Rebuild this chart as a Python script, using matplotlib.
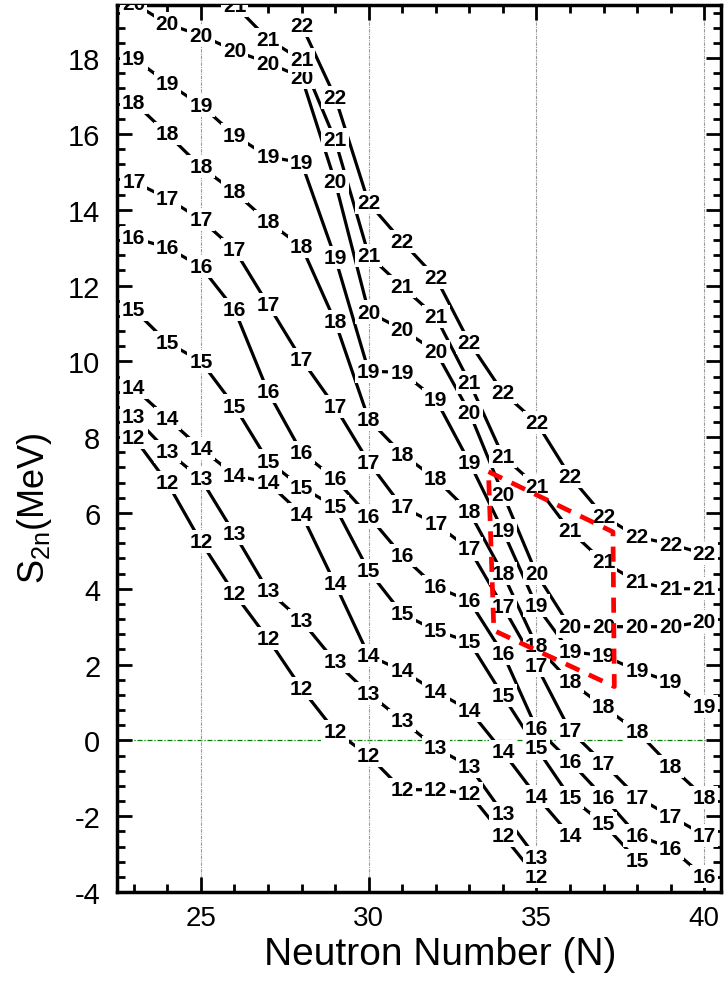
import matplotlib
matplotlib.use('Agg')
import numpy as np
import matplotlib.pyplot as plt
from matplotlib.ticker import MultipleLocator

nan = np.nan

# neutron numbers and two-neutron separation energies (MeV), one list per Z
n_values = [23, 24, 25, 26, 27, 28, 29, 30, 31, 32, 33, 34, 35, 36, 37, 38, 39, 40]

s2n_z12 = [8.0, 6.8, 5.24, 3.87, 2.68, 1.37, 0.24, -0.4, -1.3, -1.3, -1.4, -2.5, -3.6, nan, nan, nan, nan, nan]
s2n_z13 = [8.55, 7.63, 6.9, 5.45, 3.95, 3.16, 2.08, 1.24, 0.53, -0.2, -0.68, -1.92, -3.1, nan, nan, nan, nan, nan]
s2n_z14 = [9.3, 8.5, 7.7, 7.0, 6.8, 5.97, 4.13, 2.24, 1.84, 1.29, 0.8, -0.3, -1.47, -2.5, nan, nan, nan, nan]
s2n_z15 = [11.37, 10.5, 10.0, 8.82, 7.37, 6.68, 6.16, 4.47, 3.34, 2.9, 2.6, 1.18, -0.2, -1.5, -2.2, -3.16, nan, nan]
s2n_z16 = [13.26, 13.0, 12.5, 11.37, 9.2, 7.6, 6.9, 5.92, 4.87, 4.05, 3.68, 2.29, 0.32, -0.55, -1.5, -2.5, -2.84, -3.6]
s2n_z17 = [14.74, 14.3, 13.74, 12.95, 11.5, 10.05, 8.8, 7.34, 6.16, 5.71, 5.05, 3.53, 1.97, 0.26, -0.6, -1.5, -2.0, -2.5]
s2n_z18 = [16.84, 16.0, 15.13, 14.47, 13.68, 13.03, 11.05, 8.47, 7.55, 6.9, 6.03, 4.4, 2.5, 1.55, 0.89, 0.24, -0.68, -1.5]
s2n_z19 = [18.0, 17.34, 16.76, 15.97, 15.4, 15.24, 12.74, 9.74, 9.71, 9.0, 7.34, 5.53, 3.55, 2.34, 2.24, 1.84, 1.55, 0.89]
s2n_z20 = [19.45, 18.9, 18.6, 18.2, 17.87, 17.5, 14.74, 11.3, 10.84, 10.26, 8.66, 6.5, 4.4, 3.0, 3.0, 3.0, 3.0, 3.13]
s2n_z21 = [nan, nan, nan, 19.4, 18.5, 17.95, 15.84, 12.8, 11.97, 11.18, 9.45, 7.5, 6.71, 5.53, 4.71, 4.18, 4.0, 4.0]
s2n_z22 = [nan, nan, nan, nan, nan, 18.87, 16.97, 14.18, 13.16, 12.21, 10.5, 9.18, 8.39, 6.97, 5.92, 5.37, 5.18, 4.92]

chains = [(12, s2n_z12), (13, s2n_z13), (14, s2n_z14), (15, s2n_z15),
          (16, s2n_z16), (17, s2n_z17), (18, s2n_z18), (19, s2n_z19),
          (20, s2n_z20), (21, s2n_z21), (22, s2n_z22)]

# red dashed box
box_n = [33.57, 37.28, 37.32, 33.73, 33.57]
box_s = [7.09, 5.5, 1.42, 2.9, 7.09]

plt.rcParams['font.family'] = 'Liberation Sans'
plt.rcParams['axes.unicode_minus'] = False
plt.rcParams['mathtext.fontset'] = 'custom'
plt.rcParams['mathtext.rm'] = 'Liberation Sans'

fig = plt.figure(figsize=(7.24, 9.87), dpi=100)
ax = fig.add_axes([0.1616, 0.0952, 0.8343, 0.8987])

for z, s in chains:
    ax.plot(n_values, s, color='black', lw=2.3, zorder=2, solid_capstyle='butt')
    for n, v in zip(n_values, s):
        if np.isnan(v):
            continue
        ax.text(n, v, str(z), ha='center', va='center', fontsize=15, fontweight='bold',
                bbox=dict(boxstyle='square,pad=0.1', fc='white', ec='none'),
                clip_on=True, zorder=3)

ax.plot(box_n, box_s, color='red', lw=3.4, dashes=(3.2, 2.2), zorder=4)

ax.axhline(0, color='green', lw=0.9, ls=(0, (4, 1.5, 1, 1.5)), zorder=1)
for xg in [25, 30, 35, 40]:
    ax.axvline(xg, color='#999999', lw=0.8, ls=(0, (3, 1, 1, 1)), zorder=1)

ax.set_xlim(22.5, 40.5)
ax.set_ylim(-4, 19.4)
ax.xaxis.set_major_locator(MultipleLocator(5))
ax.xaxis.set_minor_locator(MultipleLocator(1))
ax.yaxis.set_major_locator(MultipleLocator(2))
ax.yaxis.set_minor_locator(MultipleLocator(0.4))
ax.tick_params(which='both', direction='in', top=True, right=True, width=2)
ax.tick_params(which='major', length=11)
ax.tick_params(which='minor', length=6)
ax.tick_params(axis='x', labelsize=20, pad=9)
ax.tick_params(axis='y', labelsize=21, pad=12)
for sp in ax.spines.values():
    sp.set_linewidth(2.5)

fig.text(440 / 724, 1 - 955 / 987, 'Neutron Number (N)', fontsize=28, ha='center', va='center')
fig.text(35 / 724, 1 - 508 / 987, r'$\mathregular{S_{2n}}$(MeV)', fontsize=26, rotation=90,
         ha='center', va='center')

fig.savefig('out.png', dpi=100)
